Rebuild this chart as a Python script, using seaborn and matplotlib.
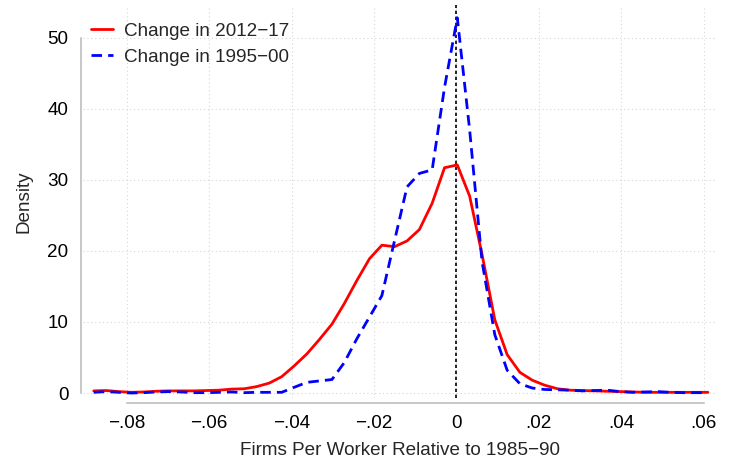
import numpy as np
import pandas as pd
import matplotlib
matplotlib.use('Agg')
import matplotlib.pyplot as plt
import seaborn as sns

# kdensity evaluation points
grid_x = [-0.0880, -0.0850, -0.0819, -0.0789, -0.0758, -0.0728, -0.0698, -0.0667, -0.0637, -0.0606,
          -0.0576, -0.0546, -0.0515, -0.0485, -0.0454, -0.0424, -0.0394, -0.0363, -0.0333, -0.0302,
          -0.0272, -0.0242, -0.0211, -0.0181, -0.0150, -0.0120, -0.0090, -0.0059, -0.0029, 0.0002,
          0.0032, 0.0062, 0.0093, 0.0123, 0.0154, 0.0184, 0.0214, 0.0245, 0.0275, 0.0306,
          0.0336, 0.0366, 0.0397, 0.0427, 0.0458, 0.0488, 0.0518, 0.0549, 0.0579, 0.0610]

# density, change in 2012-17
dens_2012 = [0.3, 0.35, 0.2, 0.1, 0.15, 0.25, 0.3, 0.3, 0.3, 0.35,
             0.4, 0.55, 0.6, 0.9, 1.4, 2.3, 3.8, 5.5, 7.5, 9.7,
             12.6, 15.8, 18.9, 20.8, 20.6, 21.4, 23.0, 26.7, 31.7, 32.1,
             27.7, 19.5, 10.3, 5.4, 2.9, 1.8, 1.1, 0.6, 0.4, 0.35,
             0.3, 0.25, 0.2, 0.15, 0.1, 0.1, 0.1, 0.1, 0.1, 0.1]

# density, change in 1995-00
dens_1995 = [0.1, 0.2, 0.1, 0.0, 0.05, 0.15, 0.2, 0.15, 0.05, 0.05,
             0.1, 0.15, 0.05, 0.1, 0.1, 0.1, 0.8, 1.5, 1.7, 1.9,
             4.3, 7.6, 10.7, 13.7, 21.5, 29.0, 30.9, 31.4, 43.0, 52.8,
             37.0, 18.5, 8.2, 3.2, 1.3, 0.7, 0.5, 0.45, 0.4, 0.3,
             0.35, 0.4, 0.2, 0.1, 0.15, 0.2, 0.1, 0.05, 0.05, 0.05]

x_ticks = [-0.08, -0.06, -0.04, -0.02, 0, 0.02, 0.04, 0.06]
x_ticklabels = ['\u2212.08', '\u2212.06', '\u2212.04', '\u2212.02', '0', '.02', '.04', '.06']
y_ticks = [0, 10, 20, 30, 40, 50]

df = pd.DataFrame({'x': grid_x * 2,
                   'density': dens_2012 + dens_1995,
                   'series': ['Change in 2012\u221217'] * len(grid_x) + ['Change in 1995\u221200'] * len(grid_x)})

sns.set_style('white')
plt.rcParams['font.family'] = ['Liberation Sans', 'DejaVu Sans']
fs = 13.6

fig = plt.figure(figsize=(7.34, 4.63), dpi=100)
ax = fig.add_axes([83 / 734, 65 / 463, 634 / 734, 393 / 463])

sns.lineplot(data=df, x='x', y='density', hue='series', style='series',
             palette=['#ff0000', '#0000ff'], dashes=[(None, None), (3.8, 2.2)],
             linewidth=2.0, ax=ax, sort=False)

# vertical reference line at zero
ax.axvline(0, color='black', linewidth=1.2, linestyle=(0, (2, 1.6)), zorder=1)

ax.set_xlim(-0.0906, 0.0632)
ax.set_ylim(-0.7, 54.6)
ax.set_xticks(x_ticks)
ax.set_xticklabels(x_ticklabels)
ax.set_yticks(y_ticks)

ax.grid(True, color='#d6d6d6', linestyle=(0, (1, 2.5)), linewidth=0.8)
ax.set_axisbelow(True)

for s in ['top', 'right']:
    ax.spines[s].set_visible(False)
ax.spines['left'].set_position(('outward', 1.6))
ax.spines['bottom'].set_position(('outward', 3.8))
ax.spines['left'].set_bounds(0, 50)
ax.spines['bottom'].set_bounds(-0.08, 0.06)
for s in ['left', 'bottom']:
    ax.spines[s].set_color('#b8b8b8')
    ax.spines[s].set_linewidth(1.1)
ax.tick_params(axis='both', colors='#b8b8b8', length=4.8, width=1.1, labelcolor='black', labelsize=fs)
ax.tick_params(axis='y', pad=4)
ax.tick_params(axis='x', pad=4)

ax.set_xlabel('Firms Per Worker Relative to 1985\u221290', fontsize=fs, labelpad=6.5)
ax.set_ylabel('Density', fontsize=fs, labelpad=11)

leg = ax.legend(loc='upper left', frameon=False, fontsize=fs, handlelength=1.2,
                handletextpad=0.55, labelspacing=0.47, borderaxespad=0.0,
                bbox_to_anchor=(0.0, 0.975))

plt.savefig('out.png', dpi=100)
